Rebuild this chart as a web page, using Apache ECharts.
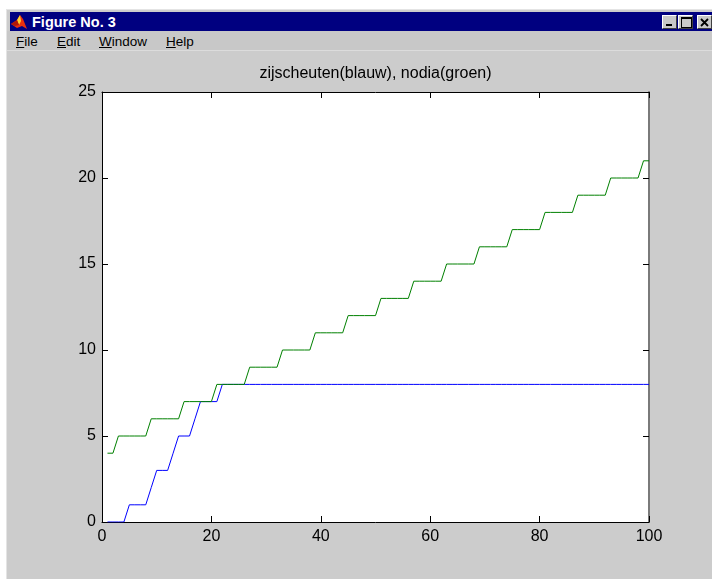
<!DOCTYPE html>
<html>
<head>
<meta charset="utf-8">
<script src="https://cdn.jsdelivr.net/npm/echarts@6/dist/echarts.min.js"></script>
<style>
  html,body{margin:0;padding:0;background:#fff;width:712px;height:579px;overflow:hidden;font-family:"Liberation Sans",Arial,sans-serif;}
  #win{position:absolute;left:6px;top:9px;width:720px;height:580px;background:#cccccc;border-left:1px solid #e4e4e4;border-top:1px solid #e4e4e4;box-sizing:border-box;}
  #titlebar{position:absolute;left:10px;top:12px;width:710px;height:19px;background:#000080;}
  #ttext{position:absolute;left:32px;top:13px;height:18px;line-height:18px;color:#fff;font-weight:bold;font-size:14.5px;}
  #menubar{position:absolute;left:7px;top:31px;width:712px;height:19px;background:#c8c8c8;border-bottom:1px solid #dcdcdc;}
  .mi{position:absolute;top:33px;font-size:13.5px;line-height:18px;color:#000;}
  .btn{position:absolute;top:15px;width:15px;height:14px;background:#c8c8c8;box-sizing:border-box;border-top:1px solid #fff;border-left:1px solid #fff;border-right:1px solid #404040;border-bottom:1px solid #404040;}
  #chart{position:absolute;left:0;top:0;width:712px;height:579px;}
</style>
</head>
<body>
<div id="win"></div>
<div id="titlebar"></div>
<svg style="position:absolute;left:11px;top:14px" width="17" height="16" viewBox="0 0 17 16">
  <polygon points="0,10 6,6 9,1 12,5 16,15 11,12 6,14" fill="#e83010"/>
  <polygon points="6,6 9,1 10,7 8,11" fill="#ffd030"/>
  <polygon points="0,10 6,6 8,11 4,12" fill="#b01808"/>
</svg>
<div id="ttext">Figure No. 3</div>
<div class="btn" style="left:662px;"><div style="position:absolute;left:3px;top:8px;width:6px;height:2px;background:#000;"></div></div>
<div class="btn" style="left:678px;"><div style="position:absolute;left:2px;top:1px;width:9px;height:8px;border:1px solid #000;border-top-width:2px;box-sizing:content-box;"></div></div>
<div class="btn" style="left:697px;"><svg style="position:absolute;left:2px;top:2px" width="10" height="9"><path d="M1,1 L8,8 M8,1 L1,8" stroke="#000" stroke-width="1.8"/></svg></div>
<div id="menubar"></div>
<div class="mi" style="left:16px;"><u>F</u>ile</div>
<div class="mi" style="left:57px;"><u>E</u>dit</div>
<div class="mi" style="left:99px;"><u>W</u>indow</div>
<div class="mi" style="left:166px;"><u>H</u>elp</div>
<div id="chart"></div>
<script>
// ---- data ----
var chartTitle = 'zijscheuten(blauw), nodia(groen)';
var xValues = [1,2,3,4,5,6,7,8,9,10,11,12,13,14,15,16,17,18,19,20,
  21,22,23,24,25,26,27,28,29,30,31,32,33,34,35,36,37,38,39,40,
  41,42,43,44,45,46,47,48,49,50,51,52,53,54,55,56,57,58,59,60,
  61,62,63,64,65,66,67,68,69,70,71,72,73,74,75,76,77,78,79,80,
  81,82,83,84,85,86,87,88,89,90,91,92,93,94,95,96,97,98,99,100];
var zijscheuten = [0,0,0,0,1,1,1,1,2,3,3,3,4,5,5,5,6,7,7,7,
  7,8,8,8,8,8,8,8,8,8,8,8,8,8,8,8,8,8,8,8,
  8,8,8,8,8,8,8,8,8,8,8,8,8,8,8,8,8,8,8,8,
  8,8,8,8,8,8,8,8,8,8,8,8,8,8,8,8,8,8,8,8,
  8,8,8,8,8,8,8,8,8,8,8,8,8,8,8,8,8,8,8,8];
var nodia = [4,4,5,5,5,5,5,5,6,6,6,6,6,6,7,7,7,7,7,7,
  8,8,8,8,8,8,9,9,9,9,9,9,10,10,10,10,10,10,11,11,
  11,11,11,11,12,12,12,12,12,12,13,13,13,13,13,13,14,14,14,14,
  14,14,15,15,15,15,15,15,16,16,16,16,16,16,17,17,17,17,17,17,
  18,18,18,18,18,18,19,19,19,19,19,19,20,20,20,20,20,20,21,21];
var xTicks = {min: 0, max: 100, interval: 20};
var yTicks = {min: 0, max: 25, interval: 5};

function pairs(ys){ return xValues.map(function(x,i){ return [x, ys[i]]; }); }

var font = '"Liberation Sans", Arial, sans-serif';
var chart = echarts.init(document.getElementById('chart'), null, {renderer:'canvas'});
function axisBase(pos, lineColor, lineWidth, showLabel, t){
  return {
    type:'value', position:pos, min:t.min, max:t.max, interval:t.interval,
    axisLine:{show:true, onZero:false, lineStyle:{color:lineColor, width:lineWidth}},
    axisTick:{show:true, inside:true, length:6, lineStyle:{color:'#000', width:1}},
    axisLabel:{show:showLabel, color:'#000', fontSize:16, fontFamily:font, margin:(pos==='bottom'?7:6)},
    splitLine:{show:false}
  };
}
chart.setOption({
  animation:false,
  backgroundColor:'transparent',
  grid:{left:102, top:92, width:547, height:430, show:true, backgroundColor:'#ffffff', borderWidth:0},
  graphic:[{type:'text', x:375.5, y:74, style:{text:chartTitle, font:'16px '+font, fill:'#000', textAlign:'center', textVerticalAlign:'middle'}}],
  xAxis:[axisBase('bottom','#000',1,true,xTicks), axisBase('top','#000',1,false,xTicks)],
  yAxis:[axisBase('left','#000',1,true,yTicks), axisBase('right','#7a7a7a',2,false,yTicks)],
  series:[
    {name:'zijscheuten', type:'line', xAxisIndex:0, yAxisIndex:0, data:pairs(zijscheuten), showSymbol:false, symbol:'none', lineStyle:{color:'#0000ff', width:1}, z:2},
    {name:'nodia', type:'line', xAxisIndex:0, yAxisIndex:0, data:pairs(nodia), showSymbol:false, symbol:'none', lineStyle:{color:'#008000', width:1}, z:3}
  ]
});
</script>
</body>
</html>
